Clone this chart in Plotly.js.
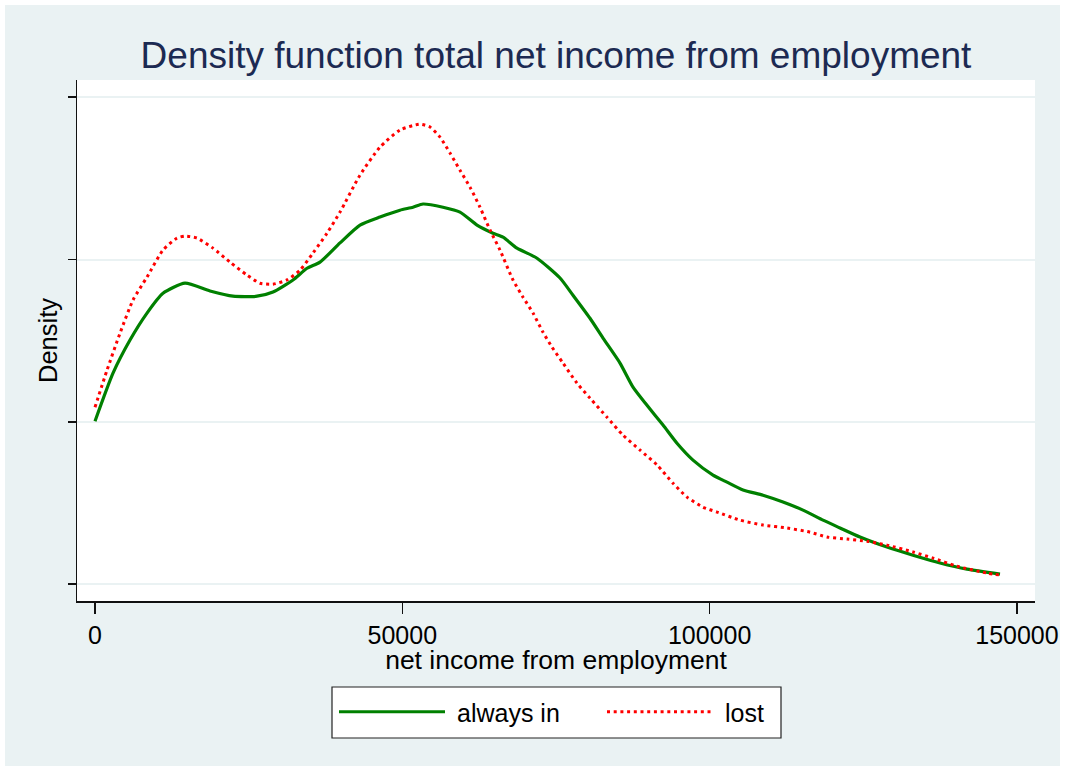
<!DOCTYPE html>
<html>
<head>
<meta charset="utf-8">
<script src="https://cdn.plot.ly/plotly-3.0.1.min.js"></script>
<style>
  html, body { margin: 0; padding: 0; background: #ffffff; }
  #bg { position: absolute; left: 5px; top: 5px; width: 1055px; height: 761px; background: #EAF2F3; }
  #chart { position: absolute; left: 0; top: 0; width: 1065px; height: 771px; }
  #chart .legendtext { transform: translateX(7px); }
  #chart text.xtitle { transform: translateY(-3px); }
</style>
</head>
<body>
<div id="bg"></div>
<div id="chart"></div>
<script>
// Density values in units of 1e-6
const alwaysInX = [0, 2929, 5695, 8461, 11064, 14643, 18711, 22453, 26357, 28961, 32215, 34492, 36608, 39862, 43116, 46370, 49624, 51739, 53366, 56620, 59386, 62151, 64755, 66382, 68659, 71913, 75656, 77771, 80537, 82652, 85418, 87533, 89810, 92414, 94692, 97295, 100549, 102826, 105430, 108684, 111938, 115192, 118446, 121212, 124466, 128858, 133089, 137482, 141874, 147244];
const alwaysInY = [5.02, 6.50, 7.52, 8.35, 8.96, 9.27, 9.03, 8.87, 8.87, 9.00, 9.37, 9.73, 9.92, 10.51, 11.06, 11.31, 11.52, 11.61, 11.71, 11.61, 11.46, 11.06, 10.81, 10.69, 10.35, 10.04, 9.43, 8.90, 8.19, 7.58, 6.81, 6.07, 5.51, 4.90, 4.34, 3.82, 3.36, 3.14, 2.90, 2.74, 2.53, 2.28, 1.97, 1.73, 1.45, 1.14, 0.89, 0.65, 0.46, 0.31];

const lostX = [0, 1952, 4068, 6183, 8461, 11064, 13341, 14643, 16595, 19199, 21965, 24730, 26846, 28961, 31239, 33354, 35469, 37747, 39862, 43116, 46370, 49624, 52878, 54505, 56132, 57759, 59386, 61013, 62640, 64267, 65894, 68009, 69636, 71263, 72890, 74354, 76144, 78421, 80537, 83302, 85906, 88672, 91437, 94041, 96318, 98922, 101199, 104942, 108684, 112588, 116330, 119096, 122350, 125604, 128858, 133089, 136343, 140248, 145129, 147244];
const lostY = [5.45, 6.59, 7.73, 8.75, 9.46, 10.29, 10.66, 10.72, 10.66, 10.35, 9.92, 9.52, 9.27, 9.24, 9.37, 9.67, 10.20, 10.81, 11.46, 12.60, 13.46, 13.99, 14.17, 14.08, 13.77, 13.28, 12.75, 12.23, 11.61, 10.91, 10.29, 9.37, 8.84, 8.35, 7.76, 7.30, 6.81, 6.19, 5.73, 5.14, 4.59, 4.13, 3.67, 3.11, 2.68, 2.37, 2.22, 1.97, 1.82, 1.73, 1.60, 1.45, 1.39, 1.32, 1.20, 0.99, 0.80, 0.55, 0.34, 0.28];

const xTicks = [0, 50000, 100000, 150000];
const xTickLabels = ['0', '50000', '100000', '150000'];
const yTicks = [0, 5, 10, 15];

const seriesNames = ['always in', 'lost'];

const FONT = 'Liberation Sans, Arial, Helvetica, sans-serif';

const traces = [
  {
    x: alwaysInX, y: alwaysInY, name: seriesNames[0], type: 'scatter', mode: 'lines',
    line: { color: '#008000', width: 3.2, shape: 'spline', smoothing: 0.6 }
  },
  {
    x: lostX, y: lostY, name: seriesNames[1], type: 'scatter', mode: 'lines',
    line: { color: '#FF0000', width: 3, dash: '3px,3.7px', shape: 'spline', smoothing: 0.6 }
  }
];

// plot area in px: left 77, right 1035, top 80, bottom 601
const PL = 77, PW = 958, PB = 601, PH = 521;
const px2x = p => (p - PL) / PW;
const px2y = p => (PB - p) / PH;

const layout = {
  width: 1065, height: 771,
  paper_bgcolor: 'rgba(0,0,0,0)',
  plot_bgcolor: '#ffffff',
  margin: { l: 77, r: 30, t: 80, b: 170 },
  font: { family: FONT, color: '#000000', size: 25 },
  title: {
    text: 'Density function total net income from employment',
    font: { family: FONT, size: 37, color: '#1c2a52' },
    x: 0.5, xref: 'paper', xanchor: 'center',
    y: 1 - 55 / 771, yref: 'container', yanchor: 'middle'
  },
  xaxis: {
    range: [-2929, 152938],
    tickmode: 'array', tickvals: xTicks, ticktext: xTickLabels,
    ticks: 'outside', ticklen: 11, tickwidth: 1.5, tickcolor: '#111111',
    showline: true, linecolor: '#111111', linewidth: 1.5,
    showgrid: false, zeroline: false,
    tickfont: { family: FONT, size: 25, color: '#000000' },
    title: { text: 'net income from employment', font: { family: FONT, size: 26.5, color: '#000000' }, standoff: 0 }
  },
  yaxis: {
    range: [-0.52, 15.53],
    tickmode: 'array', tickvals: yTicks,
    showticklabels: false,
    ticks: 'outside', ticklen: 8, tickwidth: 1.5, tickcolor: '#111111',
    showline: true, linecolor: '#111111', linewidth: 1.5,
    showgrid: true, gridcolor: '#EAF2F3', gridwidth: 2,
    zeroline: false,
    title: { text: 'Density', font: { family: FONT, size: 25.5, color: '#000000' }, standoff: 2 }
  },
  shapes: [
    {
      type: 'rect', xref: 'paper', yref: 'paper', layer: 'above',
      x0: px2x(332), x1: px2x(781), y0: px2y(738), y1: px2y(687),
      fillcolor: '#ffffff', line: { color: '#222222', width: 1.2 }
    }
  ],
  showlegend: true,
  legend: {
    orientation: 'h',
    x: px2x(334), xanchor: 'left', xref: 'paper',
    y: px2y(689), yanchor: 'top', yref: 'paper',
    bgcolor: 'rgba(0,0,0,0)', borderwidth: 0,
    font: { family: FONT, size: 25, color: '#000000' },
    itemwidth: 106,
    entrywidth: 147,
    traceorder: 'normal'
  }
};

Plotly.newPlot('chart', traces, layout, { displayModeBar: false, staticPlot: true });
</script>
</body>
</html>
